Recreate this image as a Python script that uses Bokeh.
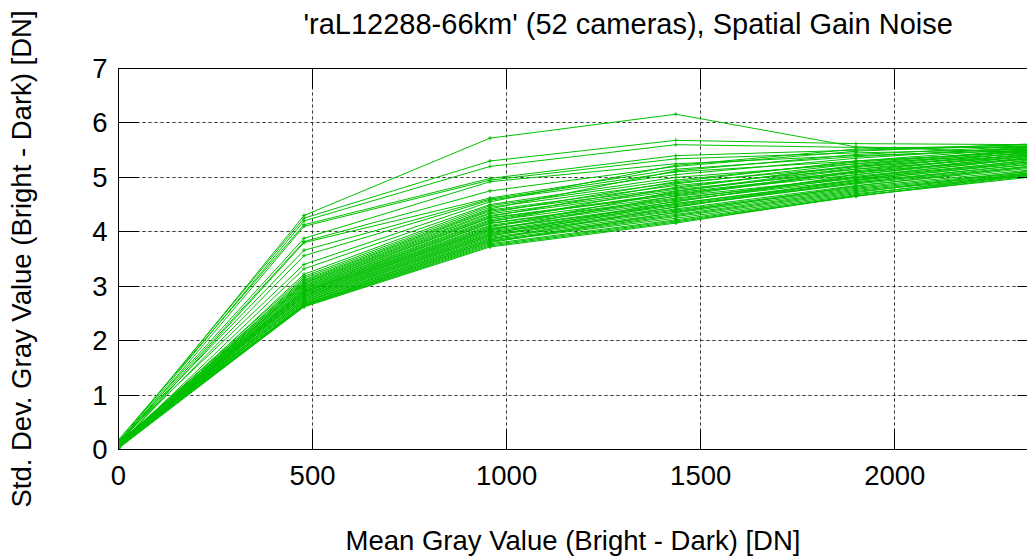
from bokeh.plotting import figure
from bokeh.models import (Range1d, LinearAxis, FixedTicker, Grid, Title,
                          CustomLabelingPolicy)
from bokeh.embed import file_html
from bokeh.resources import INLINE

# Mean gray value sample positions (DN)
mean_gray = [0, 478, 957, 1436, 1900, 2370]

# Std. dev. gray value per camera (52 cameras), one list per camera
cameras = [
    [0.12, 4.30, 5.72, 6.16, 5.56, 5.45],
    [0.15, 4.25, 5.30, 5.68, 5.62, 5.60],
    [0.10, 4.20, 5.20, 5.60, 5.55, 5.55],
    [0.18, 4.13, 4.98, 5.40, 5.50, 5.58],
    [0.08, 4.10, 4.95, 5.34, 5.45, 5.52],
    [0.14, 3.88, 4.92, 5.25, 5.40, 5.50],
    [0.11, 3.82, 4.75, 5.20, 5.48, 5.62],
    [0.06, 3.80, 4.62, 5.15, 5.38, 5.55],
    [0.13, 3.66, 4.60, 5.10, 5.30, 5.48],
    [0.09, 3.56, 4.58, 5.05, 5.35, 5.57],
    [0.16, 3.40, 4.55, 5.22, 5.52, 5.60],
    [0.07, 3.32, 4.50, 5.00, 5.25, 5.45],
    [0.05, 3.22, 4.48, 4.95, 5.28, 5.50],
    [0.10, 3.18, 4.45, 4.90, 5.20, 5.42],
    [0.04, 3.15, 4.42, 5.12, 5.42, 5.58],
    [0.12, 3.12, 4.40, 4.85, 5.15, 5.40],
    [0.08, 3.10, 4.38, 4.80, 5.22, 5.52],
    [0.06, 3.08, 4.35, 4.92, 5.30, 5.55],
    [0.11, 3.06, 4.33, 4.78, 5.10, 5.35],
    [0.03, 3.05, 4.30, 4.75, 5.18, 5.47],
    [0.09, 3.03, 4.28, 4.88, 5.25, 5.53],
    [0.07, 3.01, 4.26, 4.70, 5.05, 5.38],
    [0.13, 3.00, 4.25, 4.68, 5.12, 5.45],
    [0.05, 2.98, 4.22, 4.72, 5.08, 5.40],
    [0.10, 2.97, 4.20, 4.65, 5.00, 5.32],
    [0.04, 2.95, 4.18, 4.82, 5.20, 5.50],
    [0.08, 2.94, 4.16, 4.62, 4.98, 5.30],
    [0.06, 2.92, 4.15, 4.60, 5.02, 5.36],
    [0.12, 2.91, 4.12, 4.58, 4.95, 5.28],
    [0.03, 2.90, 4.10, 4.55, 5.05, 5.42],
    [0.09, 2.89, 4.08, 4.74, 5.15, 5.48],
    [0.07, 2.88, 4.06, 4.52, 4.92, 5.25],
    [0.05, 2.86, 4.05, 4.50, 4.90, 5.22],
    [0.11, 2.85, 4.03, 4.66, 5.10, 5.44],
    [0.04, 2.84, 4.02, 4.48, 4.88, 5.20],
    [0.08, 2.82, 4.00, 4.45, 4.96, 5.34],
    [0.06, 2.81, 3.98, 4.42, 4.85, 5.18],
    [0.10, 2.80, 3.96, 4.56, 5.00, 5.38],
    [0.03, 2.78, 3.95, 4.40, 4.82, 5.15],
    [0.07, 2.77, 3.93, 4.38, 4.80, 5.12],
    [0.05, 2.75, 3.92, 4.52, 4.94, 5.30],
    [0.09, 2.74, 3.90, 4.35, 4.78, 5.10],
    [0.04, 2.72, 3.88, 4.32, 4.76, 5.08],
    [0.06, 2.71, 3.86, 4.46, 4.90, 5.26],
    [0.08, 2.70, 3.85, 4.30, 4.74, 5.06],
    [0.03, 2.68, 3.83, 4.28, 4.72, 5.14],
    [0.05, 2.67, 3.82, 4.25, 4.70, 5.05],
    [0.07, 2.66, 3.80, 4.36, 4.84, 5.22],
    [0.04, 2.65, 3.78, 4.22, 4.68, 5.10],
    [0.06, 2.64, 3.76, 4.20, 4.66, 5.04],
    [0.02, 2.63, 3.74, 4.18, 4.65, 5.08],
    [0.05, 2.62, 3.72, 4.16, 4.66, 5.02],
]

x_ticks = [0, 500, 1000, 1500, 2000]
y_ticks = [0, 1, 2, 3, 4, 5, 6, 7]

title_text = "'raL12288-66km' (52 cameras), Spatial Gain Noise"
x_label = "Mean Gray Value (Bright - Dark) [DN]"
y_label = "Std. Dev. Gray Value (Bright - Dark) [DN]"

FONT = "Liberation Sans"
FS = "27.5px"
GREEN = "#00c000"

p = figure(width=1027, height=559, output_backend="svg", toolbar_location=None,
           x_range=Range1d(0, 2342), y_range=Range1d(0, 7),
           x_axis_location=None, y_axis_location=None,
           min_border_left=118, min_border_right=0, min_border_top=68, min_border_bottom=110)
p.outline_line_color = None
p.background_fill_color = "white"
p.border_fill_color = "white"

xt = FixedTicker(ticks=x_ticks)
yt = FixedTicker(ticks=y_ticks)

no_labels = CustomLabelingPolicy(code="""
const arr = Array.from(indices);
for (const i of arr) {
  if (indices.unset) { indices.unset(i); } else { indices.delete(i); }
}
return indices;
""")

def style_axis(ax, labels=True, tick_in=20):
    ax.major_tick_in = tick_in
    ax.major_tick_out = 0
    ax.minor_tick_in = 0
    ax.minor_tick_out = 0
    ax.axis_line_color = "black"
    ax.axis_line_width = 1
    ax.major_tick_line_color = "black"
    ax.major_label_text_font = FONT
    ax.major_label_text_color = "black"
    ax.major_label_text_font_size = FS
    if not labels:
        ax.major_label_policy = no_labels
        ax.major_label_text_font_size = "0px"
        ax.major_label_standoff = 0
    ax.axis_label_text_font = FONT
    ax.axis_label_text_font_size = FS
    ax.axis_label_text_font_style = "normal"
    ax.axis_label_text_color = "black"

bottom = LinearAxis(ticker=xt, axis_label=x_label)
style_axis(bottom)
bottom.major_label_standoff = 16
bottom.axis_label_standoff = 37
p.add_layout(bottom, "below")

left = LinearAxis(ticker=yt, axis_label=y_label)
style_axis(left)
left.major_label_standoff = 11
left.axis_label_standoff = 52
p.add_layout(left, "left")

top = LinearAxis(ticker=xt)
style_axis(top, labels=False)
p.add_layout(top, "above")

# invisible spacer between the top border and the title
spacer = LinearAxis(ticker=xt)
style_axis(spacer, labels=False, tick_in=0)
spacer.major_tick_out = 29
spacer.major_tick_line_color = None
spacer.axis_line_color = None
p.add_layout(spacer, "above")

right = LinearAxis(ticker=yt)
style_axis(right, labels=False, tick_in=10)
right.axis_line_color = None
p.add_layout(right, "right")

p.add_layout(Grid(dimension=0, ticker=xt, grid_line_color="#333333", grid_line_dash="3 3", grid_line_width=1))
p.add_layout(Grid(dimension=1, ticker=yt, grid_line_color="#333333", grid_line_dash="3 3", grid_line_width=1))

p.title = Title(text=title_text, text_font=FONT, text_font_size="29px", text_font_style="normal",
                text_color="black", align="left", offset=185, standoff=0)

xs = [mean_gray for _ in cameras]
ys = cameras
p.multi_line(xs=xs, ys=ys, line_color=GREEN, line_width=1)
flat_x = [x for row in xs for x in row]
flat_y = [y for row in ys for y in row]
p.scatter(flat_x, flat_y, marker="cross", size=4, line_color=GREEN, line_width=1)

open("out.html", "w").write(file_html(p, INLINE))
